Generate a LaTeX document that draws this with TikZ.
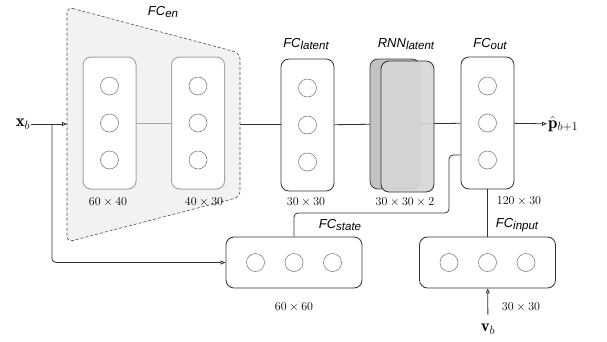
\documentclass[tikz,border=0pt]{standalone}
\usepackage{amsmath}
\usepackage{amssymb}
\usepackage{fontspec}
\newfontfamily\hvfont{Liberation Sans}
\usepackage{tikz}
\usetikzlibrary{
  arrows.meta,
  chains,
  positioning,
  scopes
}

\newcommand{\fclabel}[2]{{\hvfont\itshape\fontsize{13}{15}\selectfont #1\raisebox{-0.35ex}{\fontsize{11.5}{13}\selectfont #2}}}
\newcommand{\bsub}[1]{\mbox{\fontsize{13}{15}\selectfont$#1$}}

\begin{document}
\begin{tikzpicture}[
      x=1pt,y=-1pt,
      layerbox/.style={
         rectangle,
         rounded corners=8pt,
         minimum width=53pt,
         minimum height=132pt,
         line width=0.85pt,
         draw=black!80,
         fill=white
      },
      enbox/.style={layerbox,draw=black!35,line width=1pt},
      widebox/.style={layerbox,minimum width=136pt,minimum height=51pt},
      rnnback/.style={layerbox,minimum width=50pt,minimum height=130pt,
         fill=black!24,draw=black!75},
      rnnfront/.style={layerbox,minimum height=131pt,
         fill=black!16,fill opacity=0.9,draw=black!80},
      unit/.style={
         circle,
         minimum size=18pt,
         inner sep=0pt,
         line width=0.6pt,
         draw=black!50,
         fill=white
      },
      dims/.style={font=\fontsize{12.7}{14}\selectfont,inner sep=0pt},
      vec/.style={font=\fontsize{17}{19}\selectfont,inner sep=1pt},
      >={Triangle[open,length=5pt,width=4pt]},
      wire/.style={draw=black!80,line width=0.8pt},
      graywire/.style={draw=black!35,line width=0.8pt},
      tip/.style={->,wire},
      every join/.style={rounded corners},
    ]
    \useasboundingbox (0,0) rectangle (607,341);
    % encoder region
    \draw[draw=black!70,fill=black!5,line width=0.6pt,
          dash pattern=on 3pt off 2pt,rounded corners=6pt]
      (67,7) -- (240,53) -- (240,197) -- (67,242) -- cycle;
    \coordinate (t1) at (67,124);
    \coordinate (t2) at (240,124);

    \node (n11) [vec] at (23,124) {$\mathbf{x}_{\bsub{b}}$};
    \node (n12) [enbox] at (109.5,123) {};
    \node (n13) [enbox] at (198,123) {};
    \node (n14) [layerbox] at (307.5,125) {};
    \node (n15) [rnnback] at (395,124) {};
    \node (n16) [layerbox] at (487.5,123) {};
    \node (n17) [vec,anchor=west] at (547,124) {$\hat{\mathbf{p}}_{\bsub{b{+}1}}$};
    \node (n21) [widebox] at (294,262.5) {};
    \node (n22) [widebox] at (487.5,262.5) {};
    \node (n31) [vec] at (488,329) {$\mathbf{v}_{\bsub{b}}$};

  { [start chain]
       \chainin (n15);
       \chainin (n16)    [join=by wire];
  }
    \node (n15b) [rnnfront] at (407.5,126.5) {};

    % units
    \foreach \b in {n12,n13,n14,n16}
      \foreach \d [count=\i] in {-37,0,37}
        \node (\b u\i) [unit] at ([yshift=\d pt]\b.center) {};
    \foreach \b in {n21,n22}
      \foreach \d [count=\i] in {-38.5,0,38.5}
        \node (\b u\i) [unit] at ([xshift=\d pt]\b.center) {};

    % labels
    \node (l13) at (163,12) {\fclabel{FC}{en}};
    \node (l14) at (306,44) {\fclabel{FC}{latent}};
    \node (l15) at (406,44) {\fclabel{RNN}{latent}};
    \node (l16) at (490,44) {\fclabel{FC}{out}};
    \node (l21) at (340,225) {\fclabel{FC}{state}};
    \node (l22) at (517,225) {\fclabel{FC}{input}};

    \node (d12) [dims] at (108,202) {$60\times40$};
    \node (d13) [dims] at (204,202) {$40\times30$};
    \node (d14) [dims] at (306,202) {$30\times30$};
    \node (d15) [dims] at (405,202) {$30\times30\times2$};
    \node (d16) [dims] at (519,201) {$120\times30$};
    \node (d21) [dims] at (294,307) {$60\times60$};
    \node (d22) [dims] at (521,307) {$30\times30$};

    % connectors
    \coordinate (j1) at (52,124);
    \coordinate (b1) at (449,213);
    \draw[tip] (n11) -- (t1);
    \draw[tip,rounded corners=4pt] (j1) |- (n21.west);
    \draw[wire] (t2) -- (n14.west |- t2);
    \draw[wire,rounded corners=4pt] (n21.north) |- (b1) |- (n16.west |- 0,155);
  { [start chain]
       \chainin (n12);
       \chainin (n13)    [join=by graywire];
  }
  { [start chain]
       \chainin (n14);
       \chainin (n15)    [join=by wire];
  }
  { [start chain]
       \chainin (n16);
       \chainin (n17)    [join=by tip];
  }
  { [start chain]
       \chainin (n22);
       \chainin (n16)    [join=by wire];
  }
  { [start chain]
       \chainin (n31);
       \chainin (n22)    [join=by {tip,shorten <=8pt}];
  }
\end{tikzpicture}
\end{document}
